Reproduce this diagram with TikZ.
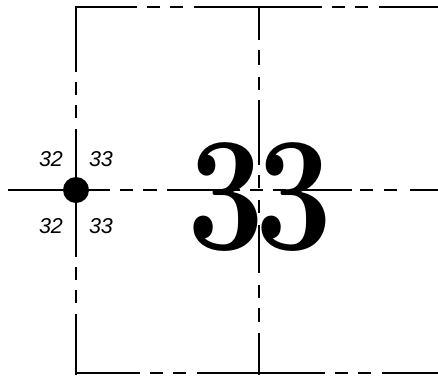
\documentclass[tikz,border=0pt]{standalone}
\usepackage{fontspec}
\newfontfamily\labelfont{Liberation Sans}
\tikzset{
  cutline/.style={line width=1.6pt, dash pattern=on 128pt off 10pt on 13pt off 10pt on 13pt off 11pt},
  foldline/.style={line width=1.6pt},
  pagelabel/.style={font=\labelfont\itshape\fontsize{21.5}{22}\selectfont, inner sep=0pt},
}
\begin{document}
\begin{tikzpicture}[x=1pt, y=-1pt]
  \useasboundingbox (0,0) rectangle (438,375);
  % Page frame (dash-dot-dot lines)
  \draw[cutline, dash phase=66pt] (75.2,7) -- (438,7);
  \draw[cutline, dash phase=64pt] (76,373) -- (438,373);
  \draw[cutline, dash phase=62pt] (76,6.2) -- (76,375);

  % Folding lines
  \draw[foldline, dash pattern=on 33pt off 10pt on 15pt off 12pt on 13pt off 10pt on 65pt off 10pt on 13pt off 12pt on 13pt off 12pt on 48pt off 12pt on 13pt off 10pt on 14pt off 11pt on 60pt]
    (259,7) -- (259,375);
  \draw[foldline, dash pattern=on 102pt off 10pt on 13pt off 10pt on 14pt off 10pt on 73pt off 10pt on 13pt off 10pt on 13pt off 10pt on 56pt off 8pt on 13pt off 11pt on 13pt off 13pt on 40pt]
    (8,190) -- (438,190);

  % Big page number
  \node[anchor=base, inner sep=0pt] (pagenum) at (260,249)
    {\scalebox{0.84}[1]{\fontsize{163}{163}\selectfont\bfseries 3\kern-11.5pt3}};

  % Registration dot with the page numbers round it
  \fill (76,190) circle (13);
  \node[pagelabel] (leftup) at (51,159) {32};
  \node[pagelabel] (rightup) at (101,159) {33};
  \node[pagelabel] (leftdown) at (51,226) {32};
  \node[pagelabel] (rightdown) at (101,226) {33};
\end{tikzpicture}
\end{document}
